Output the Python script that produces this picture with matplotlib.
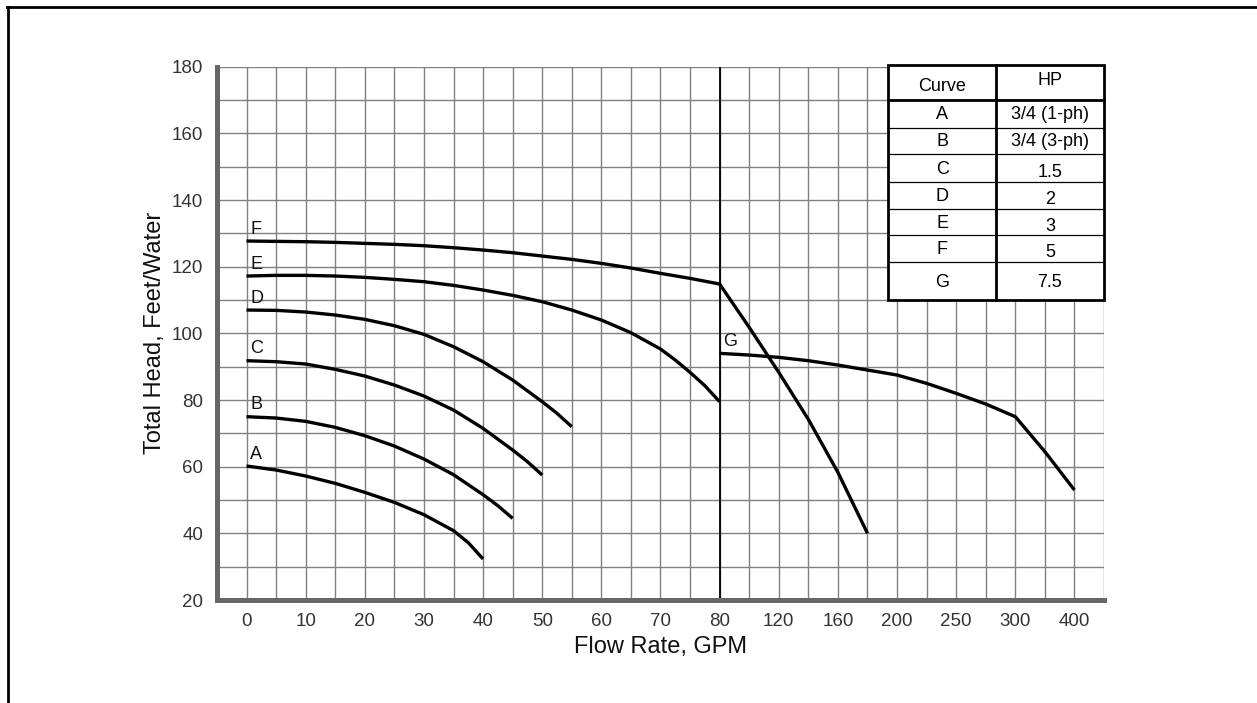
import matplotlib
matplotlib.use('Agg')
import matplotlib.pyplot as plt
import numpy as np
from matplotlib.lines import Line2D
from matplotlib.patches import Rectangle

plt.rcParams['font.family'] = ['Liberation Sans', 'DejaVu Sans']

## -- broken flow axis: evenly spaced tick positions, uneven GPM steps past 80
bp_gpm = [0, 80, 120, 160, 200, 250, 300, 400]
bp_pos = [0, 80, 90, 100, 110, 120, 130, 140]
x_tick_pos = [0, 10, 20, 30, 40, 50, 60, 70, 80, 90, 100, 110, 120, 130, 140]
x_tick_lab = ['0', '10', '20', '30', '40', '50', '60', '70', '80',
              '120', '160', '200', '250', '300', '400']

## -- curves, GPM vs head (ft)
a_q = [0, 5, 10, 15, 20, 25, 30, 35, 37.5, 40]
a_h = [60.2, 59.0, 57.2, 55.0, 52.3, 49.3, 45.6, 40.8, 37.2, 32.3]
b_q = [0, 5, 10, 15, 20, 25, 30, 35, 40, 42.5, 45]
b_h = [75.0, 74.6, 73.6, 71.8, 69.3, 66.2, 62.3, 57.6, 51.6, 48.3, 44.5]
c_q = [0, 5, 10, 15, 20, 25, 30, 35, 40, 45, 47.5, 50]
c_h = [91.8, 91.5, 90.8, 89.2, 87.2, 84.5, 81.2, 77.0, 71.5, 65.0, 61.5, 57.5]
d_q = [0, 5, 10, 15, 20, 25, 30, 35, 40, 45, 50, 52.5, 55]
d_h = [107.0, 106.9, 106.4, 105.5, 104.2, 102.3, 99.7, 96.0, 91.5, 86.0,
       79.5, 76.0, 72.0]
e_q = [0, 5, 10, 15, 20, 25, 30, 35, 40, 45, 50, 55, 60, 65, 70, 72.5, 75,
       77.5, 80]
e_h = [117.2, 117.4, 117.4, 117.2, 116.8, 116.2, 115.5, 114.4, 113.0, 111.4,
       109.5, 107.0, 104.0, 100.2, 95.3, 92.0, 88.3, 84.3, 79.5]
f_q = [0, 5, 10, 15, 20, 25, 30, 35, 40, 45, 50, 55, 60, 65, 70, 75, 80,
       100, 120, 140, 160, 180]
f_h = [127.7, 127.6, 127.5, 127.3, 127.0, 126.7, 126.3, 125.7, 125.0, 124.2,
       123.2, 122.2, 121.0, 119.6, 118.0, 116.5, 114.8,
       101.8, 88.3, 74.2, 58.3, 40.0]
g_q = [80, 100, 120, 140, 160, 180, 200, 225, 250, 275, 300, 350, 400]
g_h = [94.0, 93.5, 92.8, 91.8, 90.5, 89.0, 87.5, 85.0, 82.0, 78.8, 75.0, 64.5, 53.0]

curves = [('A', a_q, a_h), ('B', b_q, b_h), ('C', c_q, c_h), ('D', d_q, d_h),
          ('E', e_q, e_h), ('F', f_q, f_h), ('G', g_q, g_h)]

tbl_head = ['Curve', 'HP']
tbl_curve = ['A', 'B', 'C', 'D', 'E', 'F', 'G']
tbl_hp = ['3/4 (1-ph)', '3/4 (3-ph)', '1.5', '2', '3', '5', '7.5']


def to_pos(q):
 return np.interp(q, bp_gpm, bp_pos)


fig = plt.figure(figsize=(12.57, 7.03), dpi=100)
ax = fig.add_axes([0.1726, 0.1465, 0.7057, 0.7586])

ax.set_xlim(-5, 145)
ax.set_ylim(20, 180)
ax.set_xticks(x_tick_pos)
ax.set_xticklabels(x_tick_lab)
ax.set_yticks(np.arange(20, 181, 20))
ax.set_xticks(np.arange(-5, 146, 5), minor=True)
ax.set_yticks(np.arange(20, 181, 10), minor=True)
ax.grid(which='both', color='#808080', linewidth=1.0)
ax.set_axisbelow(True)
ax.tick_params(which='both', length=0)
ax.tick_params(axis='x', pad=9, labelsize=13.5, labelcolor='#333333')
ax.tick_params(axis='y', pad=10, labelsize=13.5, labelcolor='#333333')

for s in ['top', 'right']:
 ax.spines[s].set_visible(False)
for s in ['left', 'bottom']:
 ax.spines[s].set_color('#666666')
 ax.spines[s].set_linewidth(3.6)

ax.set_xlabel('Flow Rate, GPM', fontsize=17, labelpad=5, color='#111111')
ax.set_ylabel('Total Head, Feet/Water', fontsize=17, labelpad=4, color='#111111')

## -- the break line at 80 GPM
ax.axvline(to_pos(80), color='k', linewidth=1.3, zorder=2)

for name, q, h in curves:
 xp = to_pos(np.array(q, dtype=float))
 ax.plot(xp, h, color='k', linewidth=2.4, solid_capstyle='butt',
         solid_joinstyle='round', zorder=3)
 ax.text(xp[0] + 0.6, h[0] + 1.0, name, fontsize=13, ha='left', va='bottom',
         color='#111111', zorder=4)

## -- HP table, in axes fraction
tx0, txm, tx1 = 0.757, 0.878, 1.0
ty = [1.003, 0.9375, 0.886, 0.8357, 0.7844, 0.7337, 0.6838, 0.6338, 0.5625]
ax.add_patch(Rectangle((tx0, ty[-1]), tx1 - tx0, ty[0] - ty[-1],
                       transform=ax.transAxes, facecolor='white',
                       edgecolor='none', zorder=5, clip_on=False))
for i, y in enumerate(ty[1:-1]):
 lw = 2.0 if i == 0 else 0.9
 ax.add_line(Line2D([tx0, tx1], [y, y], transform=ax.transAxes, color='k',
                    linewidth=lw, zorder=6, clip_on=False))
ax.add_line(Line2D([txm, txm], [ty[-1], ty[0]], transform=ax.transAxes,
                   color='k', linewidth=2.0, zorder=6, clip_on=False))
ax.add_patch(Rectangle((tx0, ty[-1]), tx1 - tx0, ty[0] - ty[-1],
                       transform=ax.transAxes, facecolor='none',
                       edgecolor='k', linewidth=2.0, zorder=7, clip_on=False))
cx0 = (tx0 + txm) / 2
cx1 = (txm + tx1) / 2
ax.text(cx0, (ty[0] + ty[1]) / 2 - 0.008, tbl_head[0], transform=ax.transAxes,
        ha='center', va='center', fontsize=13, zorder=8)
ax.text(cx1, (ty[0] + ty[1]) / 2 + 0.003, tbl_head[1], transform=ax.transAxes,
        ha='center', va='center', fontsize=13, zorder=8)
for i in range(len(tbl_curve)):
 ym = (ty[i + 1] + ty[i + 2]) / 2
 ax.text(cx0, ym - 0.002, tbl_curve[i], transform=ax.transAxes,
         ha='center', va='center', fontsize=13, zorder=8)
 off = -0.002 if i < 2 or i == 6 else -0.008
 ax.text(cx1, ym + off, tbl_hp[i], transform=ax.transAxes,
         ha='center', va='center', fontsize=13, zorder=8)

## -- page frame, top and left only
fig.add_artist(Line2D([0.0056, 1.0], [0.990, 0.990], color='k', linewidth=2.0))
fig.add_artist(Line2D([0.0064, 0.0064], [0.0, 0.990], color='k', linewidth=2.0))

fig.savefig('out.png', dpi=100)
